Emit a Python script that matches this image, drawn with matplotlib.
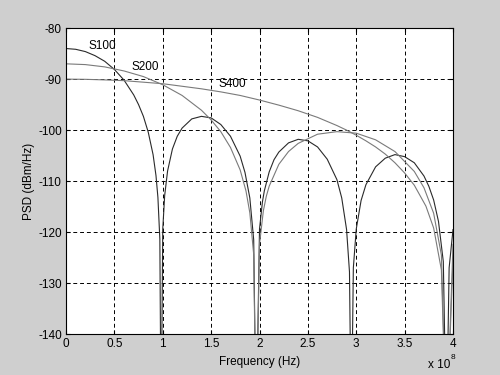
import numpy as np
import matplotlib
matplotlib.use('Agg')
import matplotlib.pyplot as plt

plt.rcParams['font.family'] = ['Liberation Sans', 'DejaVu Sans']
plt.rcParams['font.size'] = 8.5
plt.rcParams['axes.unicode_minus'] = False

# frequency in units of 1e8 Hz, PSD in dBm/Hz
f_s100 = [0, 0.1, 0.2, 0.3, 0.4, 0.5, 0.6, 0.7, 0.75, 0.8, 0.85, 0.9, 0.93, 0.95, 0.97, 0.983,
          1.0, 1.02, 1.05, 1.1, 1.15, 1.2, 1.3, 1.4, 1.5, 1.6, 1.7, 1.8, 1.85, 1.9, 1.94, 1.966,
          2.0, 2.03, 2.05, 2.1, 2.15, 2.2, 2.3, 2.4, 2.5, 2.6, 2.7, 2.8, 2.85, 2.9, 2.93, 2.949,
          2.97, 3.0, 3.05, 3.1, 3.2, 3.3, 3.4, 3.5, 3.6, 3.7, 3.75, 3.8, 3.85, 3.9, 3.932,
          3.96, 4.0]
p_s100 = [-84.0, -84.15, -84.6, -85.4, -86.5, -88.1, -90.2, -93.1, -95.0, -97.3, -100.4, -104.8, -108.9, -113.2, -121.4, -160,
          -119.4, -112.8, -108.0, -103.7, -101.2, -99.6, -97.8, -97.3, -97.6, -98.9, -101.2, -105.1, -108.3, -113.3, -121.5, -160,
          -119.4, -114.1, -111.9, -108.2, -105.8, -104.3, -102.5, -101.8, -102.1, -103.3, -105.7, -109.7, -113.3, -119.5, -127.8, -160,
          -127.0, -119.4, -113.8, -110.7, -107.2, -105.5, -104.8, -105.2, -106.4, -109.0, -111.0, -113.7, -117.9, -125.8, -160,
          -127.0, -119.5]

f_s200 = [0, 0.2, 0.4, 0.6, 0.8, 1.0, 1.2, 1.4, 1.5, 1.6, 1.7, 1.8, 1.86, 1.9, 1.94, 1.966,
          2.0, 2.04, 2.07, 2.1, 2.2, 2.3, 2.4, 2.6, 2.8, 3.0, 3.2, 3.4, 3.6, 3.7, 3.8, 3.88, 3.932, 4.0]
p_s200 = [-87.0, -87.15, -87.6, -88.4, -89.5, -91.1, -93.2, -96.1, -98.0, -100.3, -103.4, -107.8, -111.9, -116.2, -124.4, -160,
          -122.4, -115.8, -113.0, -111.0, -106.7, -104.2, -102.6, -100.8, -100.3, -100.6, -101.9, -104.2, -108.1, -111.3, -116.3, -124.5,
          -160, -122.4]

f_s400 = [0, 0.2, 0.4, 0.6, 0.8, 1.0, 1.2, 1.4, 1.6, 1.8, 2.0, 2.2, 2.4, 2.6, 2.8, 2.9, 3.0,
          3.1, 3.2, 3.3, 3.4, 3.5, 3.6, 3.72, 3.8, 3.88, 3.932, 4.0]
p_s400 = [-90.0, -90.04, -90.15, -90.3, -90.6, -90.9, -91.4, -91.9, -92.5, -93.2, -94.1, -95.1, -96.2, -97.5, -99.1, -100.0, -101.0,
          -102.1, -103.3, -104.7, -106.4, -108.4, -110.8, -114.9, -119.2, -127.4, -160, -125.4]

labels = ['S100', 'S200', 'S400']
label_pos = [(0.23, -83.5), (0.68, -87.6), (1.58, -91.0)]

fig = plt.figure(figsize=(5, 3.75), dpi=100, facecolor='#cfcfcf')
ax = fig.add_axes([0.132, 0.109, 0.774, 0.816])

ax.plot(f_s100, p_s100, color='#2a2a2a', lw=0.8)
ax.plot(f_s200, p_s200, color='#7a7a7a', lw=0.8)
ax.plot(f_s400, p_s400, color='#7a7a7a', lw=0.8)

for lab, (x, y) in zip(labels, label_pos):
    ax.text(x, y, lab, ha='left', va='center')

ax.set_xlim(0, 4)
ax.set_ylim(-140, -80)
ax.set_xticks(np.arange(0, 4.01, 0.5))
ax.set_xticklabels(['0', '0.5', '1', '1.5', '2', '2.5', '3', '3.5', '4'])
ax.set_yticks(np.arange(-140, -79, 10))
ax.tick_params(direction='in', top=True, right=True, length=3, width=0.8, pad=3)
ax.grid(True, color='black', linestyle=(0, (4, 3)), linewidth=0.7)
for s in ax.spines.values():
    s.set_linewidth(0.8)

ax.set_xlabel('Frequency (Hz)')
ax.set_ylabel('PSD (dBm/Hz)')
ax.xaxis.set_label_coords(0.5, -0.07)
ax.yaxis.set_label_coords(-0.08, 0.5)

fig.text(0.856, 0.02, 'x 10')
fig.text(0.901, 0.043, '8', fontsize=6)

fig.savefig('out.png', dpi=100, facecolor=fig.get_facecolor())
